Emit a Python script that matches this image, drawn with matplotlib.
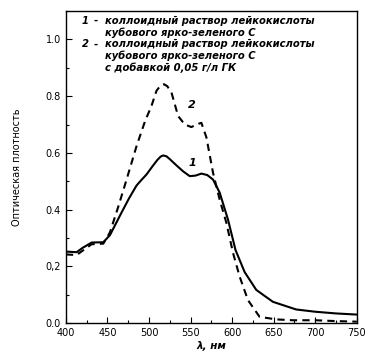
import numpy as np
import matplotlib
matplotlib.use('Agg')
import matplotlib.pyplot as plt
from matplotlib.ticker import MultipleLocator, FixedLocator, FixedFormatter

# curve 1: colloidal solution of leuco acid
wl_1 = [400, 413, 420, 431, 445, 453, 460, 467, 476, 485, 491, 497, 504, 510, 514, 517, 521, 525, 533,
        541, 549, 556, 563, 570, 577, 585, 595, 604, 615, 629, 649, 677, 700, 725, 750]
od_1 = [0.252, 0.25, 0.265, 0.284, 0.285, 0.31, 0.35, 0.39, 0.44, 0.485, 0.505, 0.524, 0.552, 0.575,
        0.587, 0.591, 0.588, 0.578, 0.556, 0.535, 0.518, 0.52, 0.527, 0.522, 0.506, 0.46, 0.365, 0.258,
        0.18, 0.117, 0.075, 0.048, 0.04, 0.034, 0.03]

# curve 2: same with 0.05 g/l additive
wl_2 = [400, 413, 420, 431, 445, 453, 463, 473, 485, 495, 503, 509, 514, 518, 522, 527, 535, 543, 551,
        557, 563, 569, 577, 585, 593, 601, 609, 619, 633, 653, 673, 700, 725, 750]
od_2 = [0.242, 0.24, 0.255, 0.278, 0.28, 0.32, 0.41, 0.506, 0.624, 0.71, 0.766, 0.819, 0.838, 0.842,
        0.835, 0.813, 0.73, 0.70, 0.691, 0.70, 0.706, 0.655, 0.53, 0.435, 0.354, 0.248, 0.164, 0.081,
        0.022, 0.013, 0.01, 0.01, 0.007, 0.005]

y_ticks = [0.0, 0.2, 0.4, 0.6, 0.8, 1.0]
y_labels = ['0.0', '0,2', '0.4', '0.6', '0.8', '1.0']

legend_lines = [
    ('1', 'коллоидный раствор лейкокислоты'),
    ('', 'кубового ярко-зеленого С'),
    ('2', 'коллоидный раствор лейкокислоты'),
    ('', 'кубового ярко-зеленого С'),
    ('', 'с добавкой 0,05 г/л ГК'),
]

fig = plt.figure(figsize=(3.66, 3.57), dpi=100)
ax = fig.add_axes([0.180, 0.095, 0.795, 0.874])

ax.plot(wl_1, od_1, color='black', lw=1.5)
ax.plot(wl_2, od_2, color='black', lw=1.5, ls=(0, (3.5, 2.5)))

ax.set_xlim(400, 750)
ax.set_ylim(0, 1.1)
ax.xaxis.set_major_locator(MultipleLocator(50))
ax.xaxis.set_minor_locator(MultipleLocator(25))
ax.yaxis.set_major_locator(FixedLocator(y_ticks))
ax.yaxis.set_major_formatter(FixedFormatter(y_labels))
ax.yaxis.set_minor_locator(MultipleLocator(0.1))
ax.tick_params(which='both', direction='in', labelsize=7, width=0.8)
ax.tick_params(which='major', length=4)
ax.tick_params(which='minor', length=2)
for s in ax.spines.values():
    s.set_linewidth(1.0)

ax.set_xlabel('λ, нм', fontsize=7.5, fontweight='bold', style='italic', labelpad=2)
ax.set_ylabel('Оптическая плотность', fontsize=7, labelpad=17)

ax.text(552, 0.566, '1', fontsize=8, fontweight='bold', style='italic', ha='center', va='center')
ax.text(552, 0.77, '2', fontsize=8, fontweight='bold', style='italic', ha='center', va='center')

leg_y = [1.066, 1.0245, 0.983, 0.9415, 0.900]
for yy, (num, txt) in zip(leg_y, legend_lines):
    if num:
        ax.text(423, yy, num, fontsize=7.2, fontweight='bold', style='italic', ha='center', va='center')
        ax.text(436, yy, '-', fontsize=7.2, fontweight='bold', ha='center', va='center')
    ax.text(447, yy, txt, fontsize=7.2, fontweight='bold', style='italic', va='center')

plt.savefig('out.png', dpi=100)
